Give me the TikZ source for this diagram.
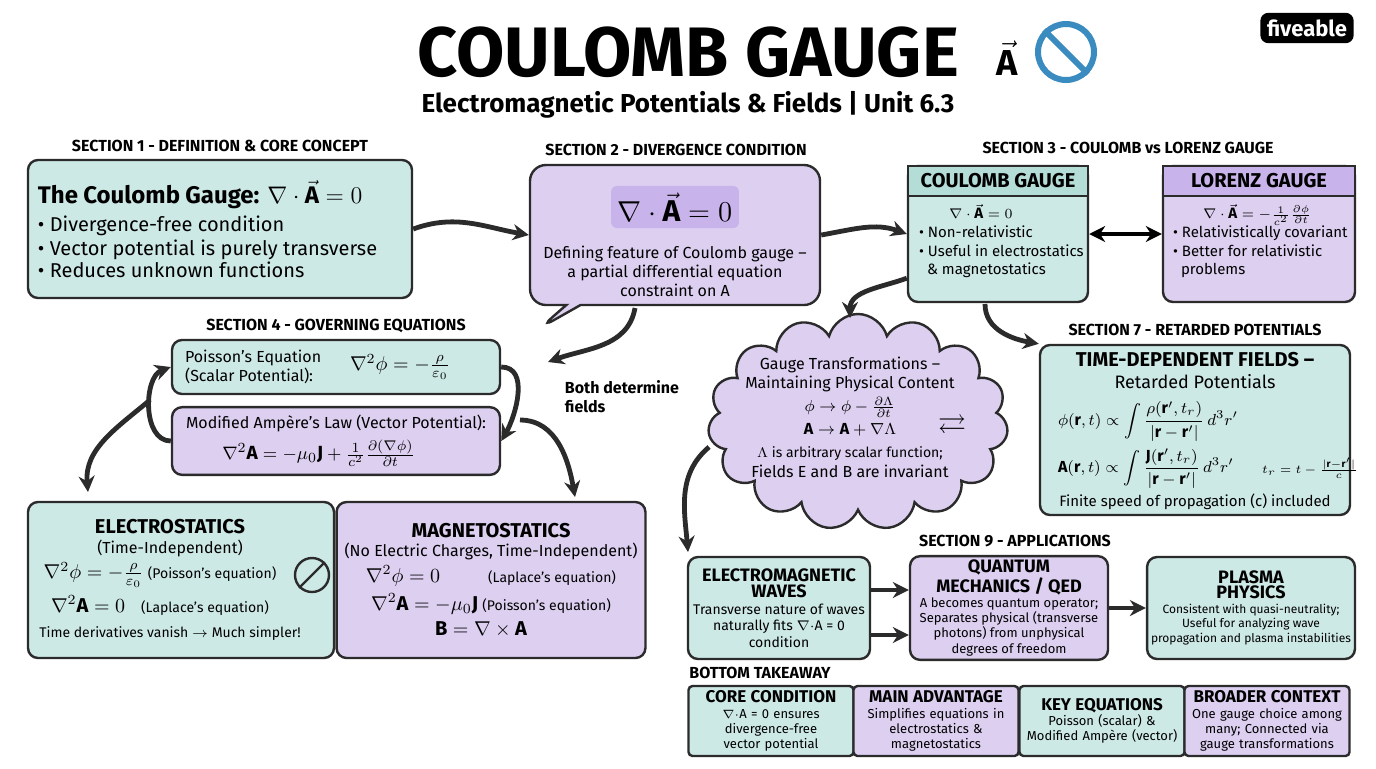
\documentclass[tikz,border=0pt]{standalone}
\usepackage{fontspec}
\setmainfont{Fira Sans}
\usepackage{amsmath,amssymb}
\usetikzlibrary{arrows.meta,shapes.symbols,shapes.callouts,positioning}
\definecolor{tealc}{HTML}{CDE9E6}
\definecolor{purpc}{HTML}{DCCFF0}
\definecolor{purpd}{HTML}{C8B3EA}
\definecolor{teald}{HTML}{B5DDD8}
\definecolor{linec}{HTML}{2B2B2B}
\definecolor{bluec}{HTML}{3A8BC0}
\newcommand{\apphead}[1]{{\fontsize{9}{10}\selectfont\bfseries #1}}
\tikzset{
  box/.style={draw=linec, line width=1.2pt, rounded corners=5pt, inner sep=4pt, font=\fontsize{8}{9.6}\selectfont},
  teal/.style={box, fill=tealc},
  purp/.style={box, fill=purpc},
  sec/.style={font=\fontsize{8}{9}\selectfont\bfseries},
  arr/.style={-{Stealth[length=8pt,width=8pt]}, line width=2.4pt, linec},
  head/.style={font=\fontsize{10}{11}\selectfont\bfseries}
}
\begin{document}
\begin{tikzpicture}[x=0.5pt,y=-0.5pt]
  \useasboundingbox[fill=white] (0,0) rectangle (1376,768);
  % Title
  \node[font=\fontsize{35}{35}\selectfont\bfseries] (title) at (688,52) {COULOMB GAUGE};
  \node[font=\fontsize{18}{18}\selectfont] (titlea) at (1007,58) {$\vec{\mathbf A}$};
  \node[circle, draw=bluec, line width=3pt, minimum size=28pt] (nosym) at (1066,52) {};
  \draw[bluec, line width=3pt] (nosym.north west) -- (nosym.south east);
  \node[font=\fontsize{13}{14}\selectfont\bfseries] (subtitle) at (688,105) {Electromagnetic Potentials \& Fields | Unit 6.3};
  \node[fill=black, text=white, rounded corners=4pt, font=\fontsize{11}{12}\selectfont\bfseries] (brand) at (1307,28) {fiveable};
  % Section labels
  \node[sec] (l1) at (220,146) {SECTION 1 - DEFINITION \& CORE CONCEPT};
  \node[sec] (l2) at (676,150) {SECTION 2 - DIVERGENCE CONDITION};
  \node[sec] (l3) at (1128,148) {SECTION 3 - COULOMB vs LORENZ GAUGE};
  \node[sec] (l4) at (336,326) {SECTION 4 - GOVERNING EQUATIONS};
  \node[sec] (l7) at (1195,330) {SECTION 7 - RETARDED POTENTIALS};
  \node[sec] (l9) at (1015,541) {SECTION 9 - APPLICATIONS};
  \node[sec] (lb) at (760,673) {BOTTOM TAKEAWAY};
  % Section 1
  \node[teal, minimum width=192pt, minimum height=69pt, text width=182pt, align=left] (s1) at (220,229)
    {{\fontsize{12}{14}\selectfont\bfseries The Coulomb Gauge: $\nabla\cdot\vec{\mathbf A}=0$}\\[2pt]
     \fontsize{10}{12}\selectfont • Divergence-free condition\\ • Vector potential is purely transverse\\ • Reduces unknown functions};
  % Section 2
  \node[rectangle callout, draw=linec, line width=1.2pt, rounded corners=8pt, fill=purpc,
        minimum width=145pt, minimum height=70pt, callout absolute pointer={(540,328)}] (s2) at (675,235) {};
  \node[fill=purpd, rounded corners=3pt, font=\fontsize{15}{17}\selectfont] (s2eq) at (675,207) {$\nabla\cdot\vec{\mathbf A}=0$};
  \node[font=\fontsize{8}{9.6}\selectfont, align=center, below=5pt of s2eq] (s2txt)
    {Defining feature of Coulomb gauge --\\ a partial differential equation\\ constraint on A};
  % Section 3
  \node[teal, minimum width=90pt, minimum height=68pt] (cg) at (998,234) {};
  \node[draw=linec, line width=1pt, fill=teald, minimum width=90pt, minimum height=15pt, head] (cgh) at (998,181) {COULOMB GAUGE};
  \node[font=\fontsize{7.5}{9.4}\selectfont, align=left, anchor=north west] (cgt) at (912,197)
    {\qquad$\nabla\cdot\vec{\mathbf A}=0$\\ • Non-relativistic\\ • Useful in electrostatics\\ \ \ \& magnetostatics};
  \node[purp, minimum width=96pt, minimum height=68pt] (lg) at (1259,234) {};
  \node[draw=linec, line width=1pt, fill=purpd, minimum width=96pt, minimum height=15pt, head] (lgh) at (1259,181) {LORENZ GAUGE};
  \node[font=\fontsize{7.5}{9.4}\selectfont, align=left, anchor=north west] (lgt) at (1166,197)
    {\qquad$\nabla\cdot\vec{\mathbf A}=-\frac{1}{c^2}\frac{\partial\phi}{\partial t}$\\ • Relativistically covariant\\ • Better for relativistic\\ \ \ problems};
  % Section 4
  \node[teal, minimum width=164pt, minimum height=27pt] (poi) at (336,367) {};
  \node[font=\fontsize{8}{9.6}\selectfont, align=left, anchor=west] (poit) at (178,367) {Poisson's Equation\\(Scalar Potential):};
  \node[font=\fontsize{10}{12}\selectfont] (poie) at (400,367) {$\nabla^2\phi=-\frac{\rho}{\varepsilon_0}$};
  \node[purp, minimum width=164pt, minimum height=33pt, align=left] (amp) at (336,441)
    {Modified Ampère's Law (Vector Potential):\\[3pt] \qquad\ {\fontsize{9.5}{11}\selectfont$\nabla^2\mathbf A=-\mu_0\mathbf J+\frac{1}{c^2}\frac{\partial(\nabla\phi)}{\partial t}$}};
  \node[font=\fontsize{8}{9.6}\selectfont\bfseries, align=left] (both) at (622,397) {Both determine\\fields};
  % Gauge transformation cloud
  \node[cloud, cloud puffs=15, aspect=1.5, draw=linec, line width=1.2pt, fill=purpc,
        minimum width=150pt, minimum height=108pt] (cloud) at (858,422) {};
  \node[align=center, font=\fontsize{8}{9.6}\selectfont] (cloudtxt) at (850,417) {Gauge Transformations --\\ Maintaining Physical Content\\[2pt] $\phi\to\phi-\frac{\partial\Lambda}{\partial t}$\\[2pt] $\mathbf A\to\mathbf A+\nabla\Lambda$\\[2pt] \fontsize{7}{8.4}\selectfont $\Lambda$ is arbitrary scalar function;\\ Fields E and B are invariant};
  \node[font=\fontsize{14}{14}\selectfont] (swap) at (952,427) {$\rightleftarrows$};
  % Section 7
  \node[teal, minimum width=155pt, minimum height=85pt] (s7) at (1195,430) {};
  \node[head, align=center] (s7h) at (1195,370) {TIME-DEPENDENT FIELDS --\\ \normalfont\fontsize{9}{10}\selectfont Retarded Potentials};
  \node[font=\fontsize{8}{9.6}\selectfont, align=left] (s7e) at (1148,445)
    {$\phi(\mathbf r,t)\propto\displaystyle\int\frac{\rho(\mathbf r',t_r)}{|\mathbf r-\mathbf r'|}\,d^3r'$\\[3pt]
     $\mathbf A(\mathbf r,t)\propto\displaystyle\int\frac{\mathbf J(\mathbf r',t_r)}{|\mathbf r-\mathbf r'|}\,d^3r'$};
  \node[font=\fontsize{6}{7}\selectfont] (s7t) at (1310,468) {$t_r=t-\frac{|\mathbf r-\mathbf r'|}{c}$};
  \node[font=\fontsize{7.5}{9}\selectfont] (s7f) at (1195,502) {Finite speed of propagation (c) included};
  % Electrostatics / magnetostatics
  \node[teal, minimum width=153pt, minimum height=78pt] (es) at (181,580) {};
  \node[align=center, font=\fontsize{8}{9.6}\selectfont] (est) at (170,580)
    {{\fontsize{10}{11}\selectfont\bfseries ELECTROSTATICS}\\ (Time-Independent)\\[2pt]
     \hspace*{-10pt}{\fontsize{10}{12}\selectfont$\nabla^2\phi=-\frac{\rho}{\varepsilon_0}$}\ {\fontsize{7}{8}\selectfont (Poisson's equation)}\\[3pt]
     \hspace*{-10pt}{\fontsize{10}{12}\selectfont$\nabla^2\mathbf A=0$}\quad {\fontsize{7}{8}\selectfont (Laplace's equation)}\\[3pt]
     {\fontsize{7}{8.4}\selectfont Time derivatives vanish $\to$ Much simpler!}};
  \node[circle, draw=linec, line width=1.2pt, minimum size=17pt] (clock) at (312,575) {};
  \draw[linec, line width=1.2pt] (clock.north east) -- (clock.south west);
  \node[purp, minimum width=141pt, minimum height=78pt, align=center] (ms) at (491,580)
    {{\fontsize{10}{11}\selectfont\bfseries MAGNETOSTATICS}\\ (No Electric Charges, Time-Independent)\\[2pt]
     {\fontsize{10}{12}\selectfont$\nabla^2\phi=0$}\qquad\quad {\fontsize{7}{8}\selectfont (Laplace's equation)}\\[3pt]
     {\fontsize{10}{12}\selectfont$\nabla^2\mathbf A=-\mu_0\mathbf J$} {\fontsize{7}{8}\selectfont (Poisson's equation)}\\[3pt]
     \hspace*{20pt}{\fontsize{10}{12}\selectfont$\mathbf B=\nabla\times\mathbf A$}\hspace*{30pt}};
  % Section 9
  \node[teal, minimum width=91pt, minimum height=51pt, inner sep=2pt, align=center, font=\fontsize{7}{8.2}\selectfont] (emw) at (779,608)
    {\apphead{ELECTROMAGNETIC}\\ \apphead{WAVES}\\ Transverse nature of waves\\ naturally fits $\nabla\cdot$A = 0\\ condition};
  \node[purp, minimum width=99pt, minimum height=51pt, inner sep=2pt, align=center, font=\fontsize{6.5}{7.6}\selectfont] (qm) at (1009,608)
    {\apphead{QUANTUM}\\ \apphead{MECHANICS / QED}\\ A becomes quantum operator;\\ Separates physical (transverse\\ photons) from unphysical\\ degrees of freedom};
  \node[teal, minimum width=99pt, minimum height=51pt, inner sep=2pt, align=center, font=\fontsize{6}{7.4}\selectfont] (pl) at (1251,608)
    {\apphead{PLASMA}\\ \apphead{PHYSICS}\\ Consistent with quasi-neutrality;\\ Useful for analyzing wave\\ propagation and plasma instabilities};
  % Bottom takeaway
  \foreach \nm/\cx/\fl/\hd/\tx in {
      bt1/771/tealc/CORE CONDITION/{$\nabla\cdot$A = 0 ensures\\ divergence-free\\ vector potential},
      bt2/936/purpc/MAIN ADVANTAGE/{Simplifies equations in\\ electrostatics \&\\ magnetostatics},
      bt3/1102/tealc/KEY EQUATIONS/{Poisson (scalar) \&\\ Modified Ampère (vector)},
      bt4/1267/purpc/BROADER CONTEXT/{One gauge choice among\\ many; Connected via\\ gauge transformations}}{
    \node[box, rounded corners=2pt, fill=\fl, minimum width=82.5pt, text width=78pt, minimum height=35pt, inner sep=2pt,
          align=center, font=\fontsize{6.5}{7.6}\selectfont] (\nm) at (\cx,721)
      {{\fontsize{8.5}{10}\selectfont\bfseries \hd}\\ \tx};
  }
  % Arrows
  \draw[arr] (s1.east) to[out=20,in=170] (s2.west);
  \draw[arr] (s2.east) to[out=10,in=160] (cg.west);
  \draw[{Stealth[length=8pt,width=8pt]}-{Stealth[length=8pt,width=8pt]}, line width=2.4pt] (cg.east) -- (lg.west);
  \draw[arr] (cg.south west) ++(0,-25) to[out=200,in=90] (850,318);
  \draw[arr] (985,304) to[out=270,in=170] (s7.north west);
  \draw[arr] (635,308) to[out=260,in=20] (548,362);
  \draw[arr] (poi.east) to[out=0,in=60] (amp.east);
  \draw[arr] (520,420) to[out=0,in=100] (575,497);
  \draw[arr] (amp.west) to[out=180,in=200] (poi.west);
  \draw[arr] (150,400) to[out=220,in=95] (88,492);
  \draw[arr] (cloud.west) ++(0,25) to[out=220,in=95] (688,552);
  \draw[arr] (emw.east |- 0,590) -- (qm.west |- 0,590);
  \draw[arr] (emw.east |- 0,635) -- (qm.west |- 0,635);
  \draw[arr] (qm.east) -- (pl.west);
\end{tikzpicture}
\end{document}
